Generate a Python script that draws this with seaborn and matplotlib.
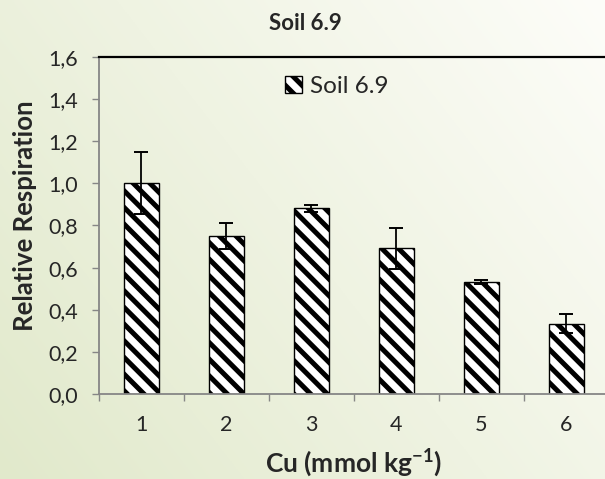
import numpy as np
import pandas as pd
import matplotlib
matplotlib.use("Agg")
import matplotlib.pyplot as plt
import seaborn as sns

# ---- data ----
cu_levels = ["1", "2", "3", "4", "5", "6"]
respiration = [1.00, 0.752, 0.882, 0.692, 0.533, 0.333]
resp_err = [0.147, 0.062, 0.016, 0.097, 0.010, 0.045]
ytick_values = [0.0, 0.2, 0.4, 0.6, 0.8, 1.0, 1.2, 1.4, 1.6]
ytick_labels = ["0,0", "0,2", "0,4", "0,6", "0,8", "1,0", "1,2", "1,4", "1,6"]
series_name = "Soil 6.9"
title_text = "Soil 6.9"
xlabel_text = r"Cu (mmol kg$^{\mathbf{-1}}$)"
ylabel_text = "Relative Respiration"

df = pd.DataFrame({"cu": cu_levels, "resp": respiration})

sns.set_style("white")
plt.rcParams["font.family"] = ["Lato", "DejaVu Sans"]
plt.rcParams["mathtext.fontset"] = "custom"
plt.rcParams["mathtext.rm"] = "Lato"
plt.rcParams["mathtext.bf"] = "Lato:bold"
plt.rcParams["hatch.linewidth"] = 3.6

fig = plt.figure(figsize=(6.05, 4.79), dpi=100)

# background gradient
bg = fig.add_axes([0, 0, 1, 1], zorder=-10)
xx, yy = np.meshgrid(np.linspace(0, 1, 300), np.linspace(0, 1, 240))
t = np.clip(0.62 * xx + 0.38 * yy, 0, 1)[..., None]
green = np.array([225, 233, 203]) / 255
white = np.array([253, 253, 249]) / 255
img = green * (1 - t) + white * t
bg.imshow(img, origin="lower", aspect="auto", extent=[0, 1, 0, 1])
bg.axis("off")

ax = fig.add_axes([0.1636, 0.1775, 0.8430, 0.7035])
ax.set_facecolor("none")

sns.barplot(data=df, x="cu", y="resp", color="white", edgecolor="black",
            linewidth=1.0, hatch="\\\\", width=0.41, label=series_name,
            ax=ax, zorder=2)
ax.errorbar(np.arange(len(cu_levels)), respiration, yerr=resp_err, fmt="none",
            ecolor="black", elinewidth=1.3, capsize=5, capthick=1.4, zorder=3)

ax.set_xlim(-0.5, len(cu_levels) - 0.5)
ax.set_ylim(0, 1.6)
ax.set_yticks(ytick_values)
ax.set_yticklabels(ytick_labels)
ax.set_xticks(np.arange(-0.5, len(cu_levels)), minor=True)

gray = "#868686"
ax.tick_params(axis="y", which="major", length=5, width=1, color=gray,
               labelsize=15.5, pad=10, left=True, direction="out")
ax.tick_params(axis="x", which="major", length=0, labelsize=15.5, pad=15)
ax.tick_params(axis="x", which="minor", length=5, width=1, color=gray,
               bottom=True, direction="out")

for s in ["left", "bottom"]:
    ax.spines[s].set_color(gray)
    ax.spines[s].set_linewidth(1.3)
ax.spines["top"].set_color("black")
ax.spines["top"].set_linewidth(1.6)
ax.spines["right"].set_visible(False)

ax.set_xlabel(xlabel_text, fontsize=19, fontweight="bold", labelpad=8)
ax.set_ylabel(ylabel_text, fontsize=18.5, fontweight="bold")
ax.yaxis.set_label_coords(-0.122, 0.53)

fig.suptitle(title_text, fontsize=16, fontweight="bold", x=0.505, y=0.972)

ax.legend(loc="center", bbox_to_anchor=(0.466, 0.911), frameon=False,
          fontsize=17.5, handlelength=0.7, handleheight=0.7, handletextpad=0.35,
          borderpad=0.2)

fig.savefig("out.png", dpi=100)
